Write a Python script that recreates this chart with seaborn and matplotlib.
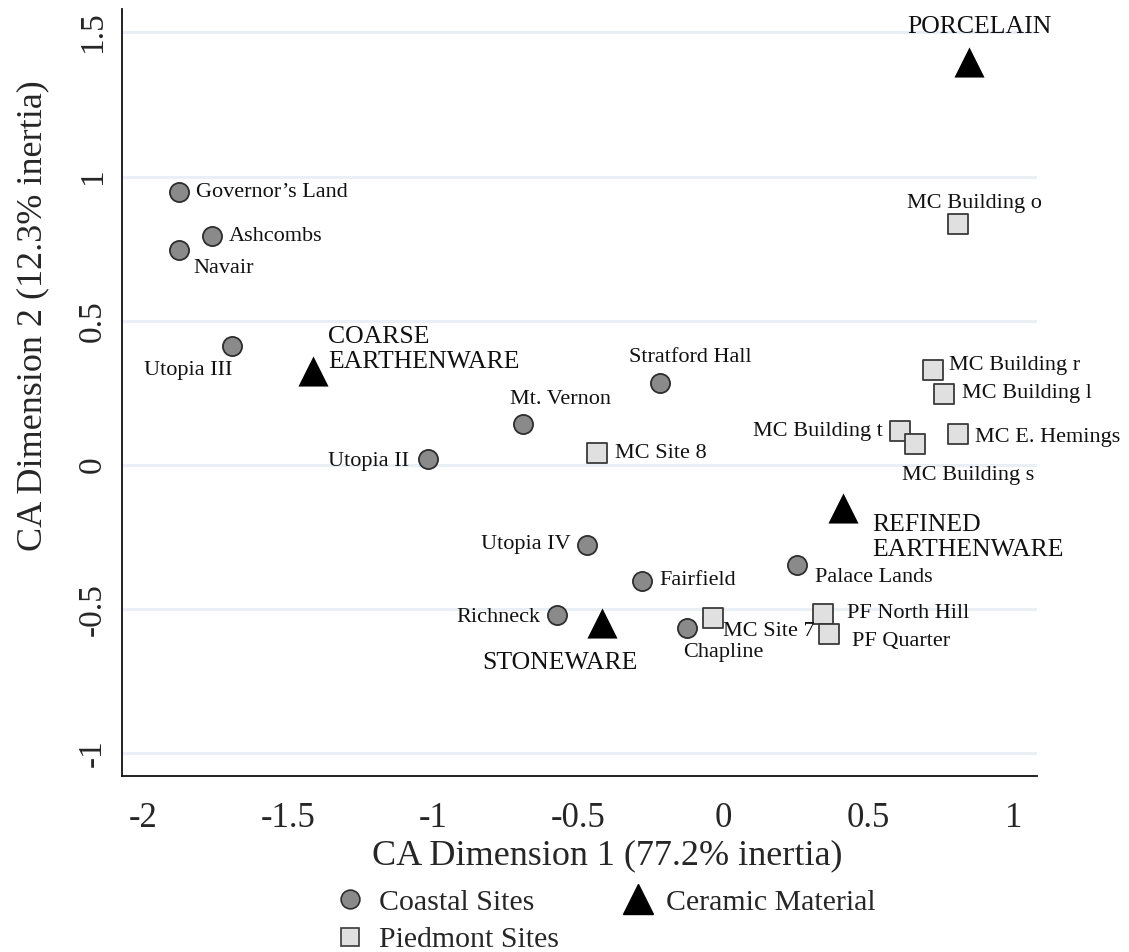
import matplotlib
matplotlib.use("Agg")
import matplotlib.pyplot as plt
from matplotlib.lines import Line2D
import pandas as pd
import seaborn as sns

# --- data -------------------------------------------------------------
coastal_names = ["Governor\u2019s Land", "Ashcombs", "Navair", "Utopia III", "Utopia II",
                 "Mt. Vernon", "Stratford Hall", "Utopia IV", "Fairfield", "Richneck",
                 "Chapline", "Palace Lands"]
coastal_x = [-1.879, -1.762, -1.879, -1.695, -1.019, -0.692, -0.218, -0.469, -0.281,
             -0.574, -0.124, 0.255]
coastal_y = [0.946, 0.793, 0.744, 0.414, 0.022, 0.143, 0.284, -0.276, -0.402,
             -0.521, -0.565, -0.348]

piedmont_names = ["MC Building o", "MC Building r", "MC Building l", "MC Building t",
                  "MC Building s", "MC E. Hemings", "MC Site 8", "MC Site 7",
                  "PF North Hill", "PF Quarter"]
piedmont_x = [0.808, 0.724, 0.762, 0.609, 0.661, 0.810, -0.437, -0.034, 0.343, 0.364]
piedmont_y = [0.836, 0.330, 0.247, 0.117, 0.073, 0.106, 0.041, -0.530, -0.515, -0.587]

ceramic_names = ["PORCELAIN", "COARSE\nEARTHENWARE", "REFINED\nEARTHENWARE", "STONEWARE"]
ceramic_x = [0.847, -1.414, 0.414, -0.419]
ceramic_y = [1.396, 0.325, -0.150, -0.549]

x_ticks = [-2, -1.5, -1, -0.5, 0, 0.5, 1]
x_tick_labels = ["-2", "-1.5", "-1", "-0.5", "0", "0.5", "1"]
y_ticks = [-1, -0.5, 0, 0.5, 1, 1.5]
y_tick_labels = ["-1", "-0.5", "0", "0.5", "1", "1.5"]

x_title = "CA Dimension 1 (77.2% inertia)"
y_title = "CA Dimension 2 (12.3% inertia)"

# --- label placement: (dx, dy) in pixels from the marker, horizontal anchor
label_offsets = {
    "Governor\u2019s Land": (17, 0, "left"),
    "Ashcombs": (16, 0, "left"),
    "Navair": (15, -18, "left"),
    "Utopia III": (0, -25, "right"),
    "Utopia II": (-19, -3, "right"),
    "Mt. Vernon": (-13, 24, "left"),
    "Stratford Hall": (-31, 26, "left"),
    "Utopia IV": (-17, 0, "right"),
    "Fairfield": (18, 0, "left"),
    "Richneck": (-17, -2, "right"),
    "Chapline": (-4, -24, "left"),
    "Palace Lands": (18, -12, "left"),
    "MC Building o": (-51, 20, "left"),
    "MC Building r": (16, 4, "left"),
    "MC Building l": (18, 0, "left"),
    "MC Building t": (-17, 0, "right"),
    "MC Building s": (-13, -32, "left"),
    "MC E. Hemings": (17, -3, "left"),
    "MC Site 8": (18, 0, "left"),
    "MC Site 7": (10, -14, "left"),
    "PF North Hill": (24, 0, "left"),
    "PF Quarter": (23, -7, "left"),
    "PORCELAIN": (-62, 35, "left"),
    "COARSE\nEARTHENWARE": (15, 22, "left"),
    "REFINED\nEARTHENWARE": (29, -29, "left"),
    "STONEWARE": (-120, -40, "left"),
}

# --- styling ----------------------------------------------------------
sns.set_style("white")
plt.rcParams["font.family"] = ["Liberation Serif", "DejaVu Serif"]
plt.rcParams["axes.unicode_minus"] = False

coastal_face, coastal_edge = "#8a8a8a", "#2e2e2e"
piedmont_face, piedmont_edge = "#e0e0e0", "#3a3a3a"
ceramic_face = "#000000"

fig = plt.figure(figsize=(11.29, 9.52), dpi=100)
ax = fig.add_axes([0.1081, 0.1849, 0.8104, 0.8053])

coastal = pd.DataFrame({"site": coastal_names, "x": coastal_x, "y": coastal_y})
piedmont = pd.DataFrame({"site": piedmont_names, "x": piedmont_x, "y": piedmont_y})
ceramic = pd.DataFrame({"material": ceramic_names, "x": ceramic_x, "y": ceramic_y})

for y in y_ticks:
    ax.axhline(y, color="#e9eff4", lw=2.2, zorder=0)

sns.scatterplot(data=coastal, x="x", y="y", ax=ax, marker="o", s=190,
                color=coastal_face, edgecolor=coastal_edge, linewidth=1.3,
                legend=False, zorder=3)
sns.scatterplot(data=piedmont, x="x", y="y", ax=ax, marker="s", s=190,
                color=piedmont_face, edgecolor=piedmont_edge, linewidth=1.3,
                legend=False, zorder=3)
sns.scatterplot(data=ceramic, x="x", y="y", ax=ax, marker="^", s=470,
                color=ceramic_face, edgecolor=ceramic_face, linewidth=0,
                legend=False, zorder=3)

def put_labels(names, xs, ys, size):
    for name, xv, yv in zip(names, xs, ys):
        dx, dy, ha = label_offsets[name]
        ax.annotate(name, (xv, yv), xytext=(dx, dy), textcoords="offset pixels",
                    ha=ha, va="center", fontsize=size, color="#111111",
                    linespacing=1.15, zorder=4, annotation_clip=False)

put_labels(coastal_names, coastal_x, coastal_y, 16)
put_labels(piedmont_names, piedmont_x, piedmont_y, 16)
put_labels(ceramic_names, ceramic_x, ceramic_y, 18.5)

ax.set_xlim(-2.074, 1.082)
ax.set_ylim(-1.078, 1.58)
ax.set_xticks(x_ticks)
ax.set_xticklabels(x_tick_labels, fontsize=25)
ax.set_yticks(y_ticks)
ax.set_yticklabels(y_tick_labels, fontsize=24, rotation=90, va="center")
ax.tick_params(axis="both", direction="out", length=11, width=1.2, color="#111111")
ax.tick_params(axis="x", pad=8)
ax.tick_params(axis="y", pad=-1)

for side in ("top", "right"):
    ax.spines[side].set_visible(False)
for side in ("left", "bottom"):
    ax.spines[side].set_color("#111111")
    ax.spines[side].set_linewidth(1.3)

ax.set_xlabel(x_title, fontsize=26)
ax.set_ylabel(y_title, fontsize=26)
ax.xaxis.set_label_coords(0.53, -0.082)
ax.yaxis.set_label_coords(-0.080, 0.6)

handles = [
    Line2D([], [], ls="", marker="o", markersize=13.5, markerfacecolor=coastal_face,
           markeredgecolor=coastal_edge, markeredgewidth=1.2),
    Line2D([], [], ls="", marker="s", markersize=13.5, markerfacecolor=piedmont_face,
           markeredgecolor=piedmont_edge, markeredgewidth=1.2),
    Line2D([], [], ls="", marker="^", markersize=21, markerfacecolor=ceramic_face,
           markeredgecolor=ceramic_face),
]
labels = ["Coastal Sites", "Piedmont Sites", "Ceramic Material"]
fig.legend(handles, labels, loc="upper left", bbox_to_anchor=(0.2996, 0.0665),
           ncol=2, frameon=False, fontsize=21.5, handlelength=0.8, handletextpad=0.55,
           columnspacing=2.25, labelspacing=0.36, borderpad=0, borderaxespad=0)

fig.savefig("out.png", dpi=100)
